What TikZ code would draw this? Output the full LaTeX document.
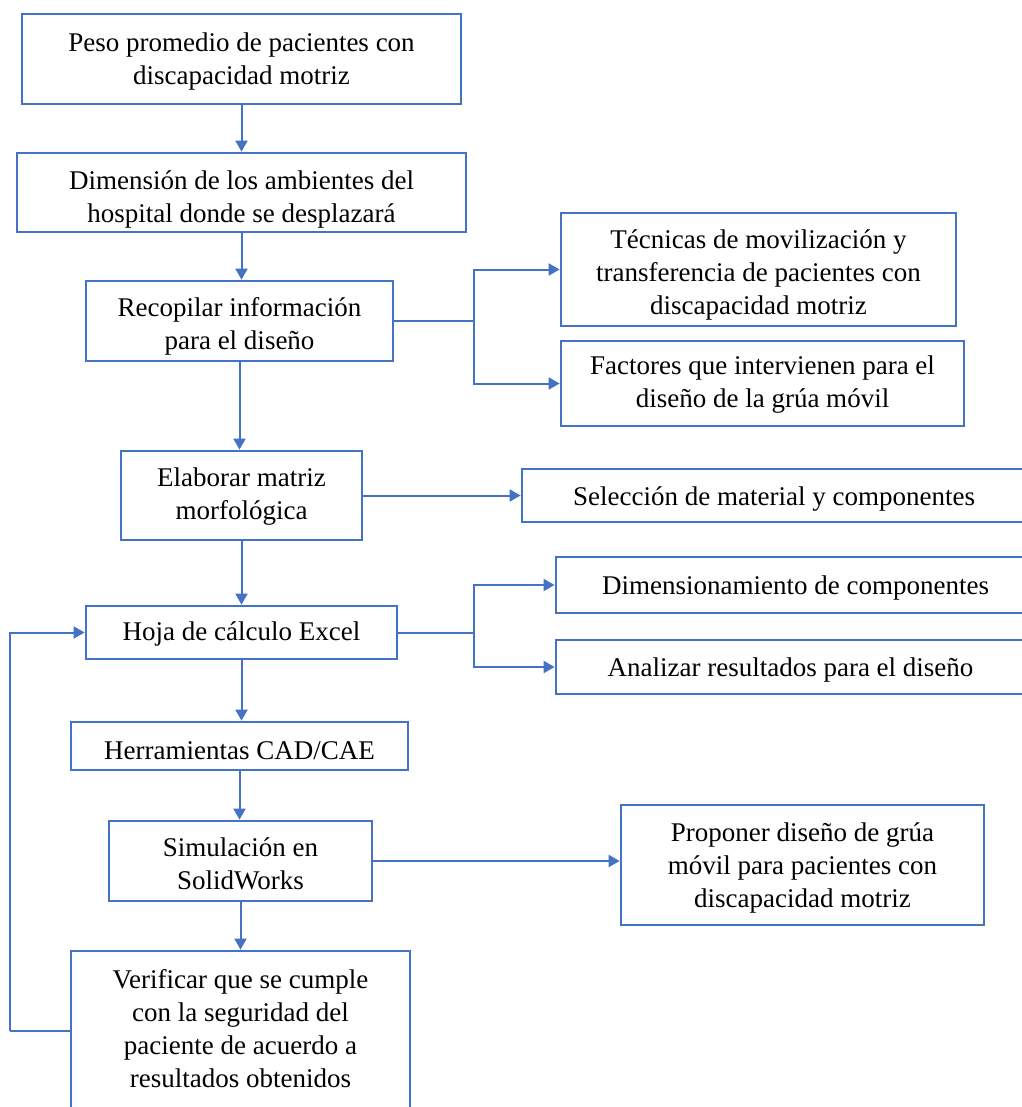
\documentclass[tikz,border=0pt]{standalone}
\usepackage{fontspec}
\setmainfont{Liberation Serif}
\newfontfamily\tnr{Liberation Serif}
\usetikzlibrary{arrows.meta,calc}
\definecolor{bblue}{HTML}{4472C4}
\begin{document}
\begin{tikzpicture}[x=1pt,y=-1pt,
  box/.style={draw=bblue,line width=2.8pt,fill=white,inner sep=0pt,align=center,
    font=\tnr\fontsize{27}{33}\selectfont,text=black},
  conn/.style={draw=bblue,line width=2pt},
  arr/.style={conn,-{Triangle[length=11pt,width=12pt]}}]
\useasboundingbox (0,0) rectangle (1021,1107);
\fill[white] (0,0) rectangle (1021,1107);
\node[box,minimum width=439pt,minimum height=90pt,text height=56pt] (b1) at (241.5,59) {Peso promedio de pacientes con\\discapacidad motriz};
\node[box,minimum width=449pt,minimum height=79pt,text height=65pt] (b2) at (241.5,192.5) {Dimensión de los ambientes del\\hospital donde se desplazará};
\node[box,minimum width=307pt,minimum height=80pt,text height=63pt] (b3) at (239.5,321) {Recopilar información\\para el diseño};
\node[box,minimum width=395pt,minimum height=113pt,text height=96pt] (bT) at (758.5,269.5) {Técnicas de movilización y\\transferencia de pacientes con\\discapacidad motriz};
\node[box,minimum width=403pt,minimum height=85pt,text height=54pt] (bF) at (762.5,383.5) {Factores que intervienen para el\\diseño de la grúa móvil};
\node[box,minimum width=241pt,minimum height=89pt,text height=53pt] (bE) at (241.5,495.5) {Elaborar matriz\\morfológica};
\node[box,minimum width=504pt,minimum height=53pt,text height=26pt] (bS) at (774,495.5) {Selección de material y componentes};
\node[box,minimum width=311pt,minimum height=53pt,text height=22pt] (bH) at (241.5,632.5) {Hoja de cálculo Excel};
\node[box,minimum width=479pt,minimum height=56pt,text height=24pt] (bD) at (795.5,585) {Dimensionamiento de componentes};
\node[box,minimum width=469pt,minimum height=54pt,text height=24pt] (bA) at (790.5,667) {Analizar resultados para el diseño};
\node[box,minimum width=337pt,minimum height=48pt,text height=28pt] (bC) at (239.5,746) {Herramientas CAD/CAE};
\node[box,minimum width=263pt,minimum height=80pt,text height=58pt] (bSim) at (240.5,861) {Simulación en\\SolidWorks};
\node[box,minimum width=363pt,minimum height=120pt,text height=90pt] (bP) at (802.5,865) {Proponer diseño de grúa\\móvil para pacientes con\\discapacidad motriz};
\node[box,minimum width=339pt,minimum height=160pt,text height=114pt] (bV) at (240.5,1031) {Verificar que se cumple\\con la seguridad del\\paciente de acuerdo a\\resultados obtenidos};
\coordinate (j1) at (474,321);
\coordinate (j2) at (474,632.5);
\coordinate (lp) at (10,1031);
\draw[arr] (b1.south) -- (b2.north);
\draw[arr] (b2.south) -- (b2.south |- b3.north);
\draw[conn] (b3.east) -- (j1);
\draw[arr] (j1) |- (bT.west);
\draw[arr] (j1) |- (bF.west);
\draw[arr] (b3.south) -- (b3.south |- bE.north);
\draw[arr] (bE.east) -- (bS.west);
\draw[arr] (bE.south) -- (bH.north);
\draw[conn] (bH.east) -- (j2);
\draw[arr] (j2) |- (bD.west);
\draw[arr] (j2) |- (bA.west);
\draw[arr] (bH.south) -- (bH.south |- bC.north);
\draw[arr] (bC.south) -- (bC.south |- bSim.north);
\draw[arr] (bSim.south) -- (bSim.south |- bV.north);
\draw[arr] (bSim.east) -- (bSim.east -| bP.west);
\draw[conn] (bV.west) -- (lp);
\draw[arr] (lp) |- (bH.west);
\end{tikzpicture}
\end{document}
